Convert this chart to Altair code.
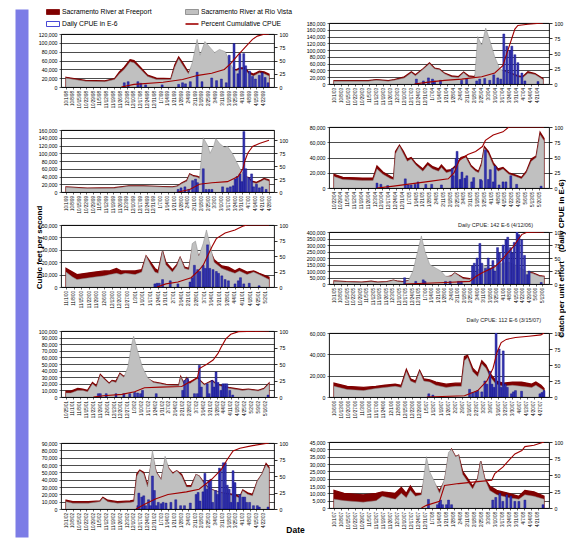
import altair as alt
import pandas as pd

FONT = "Liberation Sans"
FREE_C = "#800000"
RIO_C = "#c0c0c0"
RIO_LINE = "#8a8a8a"
BAR_C = "#3535b0"
BAR_LINE = "#000080"
CUM_C = "#a00000"
STRIPE_C = "#7c7ce6"

# ---------------- data (days are offsets from each season's first date) -------------
P1_DAYS = [0,20,40,50,55,60,66,70,76,84,93,108,112,116,120,126,130,135,138,143,149,153,158,164,167,171,175,179,184,188,193,199,204,209]
P1_RIO = [20000,13000,12000,17000,30000,40000,57000,55000,42000,24000,17000,17000,45000,64000,50000,30000,55000,108000,72000,103000,88000,78000,85000,80000,65000,45000,36000,40000,40000,30000,25000,32000,30000,25000]
P1_FREE = [22000,15000,14000,19000,34000,45000,62000,60000,46000,27000,20000,19000,50000,68000,55000,33000,45000,70000,60000,70000,65000,60000,62000,60000,55000,40000,39000,43000,43000,34000,29000,36000,34000,29000]
P1_BAR_DAYS = [60,64,74,77,82,99,116,120,123,128,135,140,150,155,160,165,168,173,177,179,183,185,189,192,195,199,202,205,208]
P1_CPUE = [8,10,10,7,4,4,5,8,6,10,28,10,17,12,15,8,60,82,25,63,63,40,30,20,15,22,27,18,8]
P1_CUM_DAYS = [57,70,100,120,136,150,163,170,177,182,186,192,197,203,209]
P1_CUM = [0,5,9,14,22,26,33,45,60,70,78,90,96,99,100]

P2_DAYS = [0,34,42,54,60,70,77,81,89,95,100,105,110,117,124,129,134,140,143,147,151,155,160,165,170,177,183,188,193,200,208]
P2_RIO = [8000,8000,11000,8000,11000,18000,33000,24000,44000,60000,45000,42000,30000,21000,19000,33000,21000,19000,140000,115000,165000,130000,80000,45000,37000,29000,21000,19000,32000,28000,13000]
P2_FREE = [10000,10000,13000,10000,13000,21000,36000,27000,46000,62000,47000,44000,32000,24000,22000,35000,24000,22000,40000,45000,50000,50000,45000,40000,38000,31000,24000,22000,36000,31000,16000]
P2_BAR_DAYS = [82,89,94,98,100,106,127,132,142,145,150,155,159,163,166,169,172,175,177,180,183,187,190,203]
P2_CPUE = [8,5,10,8,5,6,6,8,5,8,9,6,15,10,8,82,62,55,62,48,35,18,5,4]
P2_CUM_DAYS = [80,94,110,127,147,160,168,173,177,180,183,193,208]
P2_CUM = [0,3,6,8,12,18,30,55,75,90,96,98,100]

P3_DAYS = [0,22,50,65,80,100,110,115,120,125,128,132,136,138,142,147,149,153,155,159,164,167,172,177,180,184,189,192,197,202,205,210]
P3_RIO = [12000,9000,10000,15000,15000,13000,12000,14000,22000,28000,45000,40000,38000,35000,140000,118000,100000,120000,138000,125000,115000,118000,100000,75000,60000,45000,35000,25000,22000,28000,32000,28000]
P3_FREE = [13000,10000,11000,16000,16000,14000,13000,15000,24000,30000,47000,42000,40000,38000,45000,45000,45000,45000,45000,45000,45000,45000,42000,40000,38000,40000,37000,28000,25000,31000,35000,31000]
P3_BAR_DAYS = [116,119,123,127,131,134,136,142,145,148,151,162,167,170,173,175,177,180,182,184,186,189,192,194,197,200,203,207]
P3_CPUE = [5,8,10,5,22,25,18,45,5,5,5,10,8,10,12,25,30,35,20,117,45,28,35,10,15,8,10,5]
P3_CUM_DAYS = [116,128,138,151,167,178,183,185,188,193,200,210]
P3_CUM = [0,5,15,18,20,30,45,60,75,88,94,100]

P4_DAYS = [0,9,29,40,44,50,58,61,63,67,71,75,79,84,91,96,101,107,110,115,120,125,130,135,140,145,148,151,154,158,163,168,173,179,186,192,197,202,207,211,215]
P4_RIO = [15000,11000,10000,10000,25000,18000,12000,11000,45000,55000,45000,35000,38000,30000,22000,30000,25000,22000,27000,20000,22000,28000,38000,40000,28000,22000,20000,30000,52000,45000,30000,22000,25000,18000,15000,12000,20000,35000,40000,70000,62000]
P4_FREE = [18000,14000,13000,13000,29000,21000,15000,13000,48000,56000,48000,38000,40000,32000,25000,33000,28000,25000,30000,23000,24000,30000,40000,42000,30000,24000,22000,32000,54000,48000,33000,25000,27000,20000,17000,14000,22000,38000,42000,73000,65000]
P4_BAR_DAYS = [44,48,55,73,76,79,83,86,94,100,110,121,122,125,126,129,131,134,136,141,143,150,151,155,158,160,163,165,169,173,176,181,187,212]
P4_CPUE = [8,6,4,15,5,5,6,10,6,6,5,32,20,48,60,14,26,16,20,10,17,14,12,62,14,30,10,36,5,10,10,20,6,3]
P4_CUM_DAYS = [44,61,94,117,123,128,137,145,152,155,163,173,179,215]
P4_CUM = [0,3,10,15,25,45,55,60,68,78,87,92,100,100]

P5_DAYS = [0,6,10,18,26,35,40,46,50,54,63,69,73,77,81,84,88,91,97,101,104,108,112,115,118,121,125,128,131,135,142,148,154,158,165,171,176,185]
P5_RIO = [12000,8000,6000,7000,8000,9000,10000,11000,10000,11000,10000,12000,25000,18000,12000,11000,29000,18000,12000,17000,24000,15000,14000,35000,37000,25000,35000,46000,35000,20000,15000,13000,11000,13000,10000,12000,10000,6000]
P5_FREE = [15000,12000,10000,11000,12000,13000,13000,15000,13000,13000,13000,14000,25000,20000,15000,13000,29000,20000,14000,18000,24000,16000,15000,30000,30000,25000,30000,35000,30000,22000,17000,16000,13000,15000,12000,13000,11000,8000]
P5_BAR_DAYS = [81,83,85,88,95,102,113,115,117,120,122,125,127,129,131,134,137,139,142,145,148,154,157,159,162,167,176]
P5_CPUE = [5,6,6,12,10,5,8,15,35,28,25,35,30,68,30,28,25,22,18,12,10,5,10,15,5,6,2]
P5_CUM_DAYS = [83,91,102,114,120,125,129,133,137,145,154,161,165,185]
P5_CUM = [0,5,8,15,25,35,50,65,78,87,92,98,100,100]

P6_DAYS = [0,13,30,40,47,57,64,69,74,80,85,90,94,98,103,110,115,120,126,130,134,139,146,153,160,167,177,187,197,204,209,214,221,226]
P6_RIO = [20000,15000,12000,18000,12000,15000,28000,18000,15000,25000,100000,250000,370000,250000,150000,120000,100000,60000,60000,85000,65000,40000,35000,90000,150000,120000,150000,170000,140000,110000,90000,80000,60000,55000]
P6_FREE = [24000,18000,15000,21000,15000,18000,30000,21000,18000,25000,40000,50000,60000,60000,55000,50000,48000,50000,62000,85000,68000,48000,42000,45000,50000,55000,60000,65000,70000,80000,90000,85000,65000,60000]
P6_BAR_DAYS = [76,88,96,98,120,125,134,137,149,151,154,157,159,163,166,168,171,173,176,178,182,185,187,190,192,194,197,199,202,205,208,210,223]
P6_CPUE = [12,5,8,5,5,5,5,5,35,40,50,78,40,30,50,30,45,25,70,60,75,85,90,70,60,80,142,95,85,55,18,25,3]
P6_CUM_DAYS = [76,120,146,153,160,167,173,180,187,193,198,202,207,226]
P6_CUM = [0,3,5,15,22,28,33,45,60,72,85,95,99,100]

P7_DAYS = [0,5,12,17,22,27,31,35,39,44,47,51,55,59,63,67,69,73,78,83,89,96,102,115,117,120,123,126,131,134,141,149,154,167,180,186,196,202,207]
P7_RIO = [6000,6000,10000,10000,8000,20000,15000,33000,27000,20000,24000,22000,35000,30000,45000,80000,92000,70000,45000,30000,22000,20000,18000,17000,30000,20000,28000,20000,25000,28000,18000,24000,18000,13000,10000,11000,9000,12000,20000]
P7_FREE = [9000,9000,13000,12000,10000,22000,17000,34000,28000,21000,25000,24000,36000,31000,36000,40000,45000,40000,35000,28000,23000,21000,19000,18000,31000,21000,29000,21000,26000,29000,19000,25000,19000,14000,11000,12000,10000,13000,21000]
P7_BAR_DAYS = [33,35,41,51,59,65,70,73,76,78,92,119,121,124,131,134,136,138,144,146,149,151,153,155,158,160,162,164,167,170,206]
P7_CPUE = [5,5,5,5,5,5,7,6,5,10,5,10,25,28,5,5,48,15,20,5,25,15,38,22,10,20,20,20,10,3,3]
P7_CUM_DAYS = [28,38,57,70,80,96,118,125,134,136,144,150,155,158,163,168,176,207]
P7_CUM = [0,2,4,8,14,15,16,22,29,43,50,56,66,75,88,95,99,100]

P8_DAYS = [0,13,29,41,50,60,66,71,75,80,84,88,94,100,110,119,125,128,131,136,141,145,149,153,159,166,175,184,194,198,203,206]
P8_RIO = [10000,7000,6000,8000,9000,10000,9000,24000,15000,13000,24000,15000,14000,11000,9000,10000,10000,34000,37000,24000,19000,31000,27000,19000,12000,10000,11000,10000,9000,11000,8000,6000]
P8_FREE = [13000,10000,9000,10000,11000,12000,11000,26000,17000,15000,25000,17000,16000,14000,12000,13000,13000,38000,39000,27000,22000,34000,30000,22000,15000,13000,14000,14000,12000,14000,11000,8000]
P8_BAR_DAYS = [93,97,133,136,139,141,145,148,150,153,155,157,159,162,164,166,168,170,174,176,178,184,202,204,206]
P8_CPUE = [5,3,12,7,8,10,8,25,20,40,20,15,112,75,15,72,20,15,5,8,10,9,5,7,10]
P8_CUM_DAYS = [91,128,141,150,156,160,164,169,178,191,203,206]
P8_CUM = [0,2,10,25,45,70,85,90,93,95,97,100]

P9_DAYS = [0,7,23,35,38,43,53,66,70,73,76,80,84,89,93,98,102,106,110,114,119,124,129,134,137,142,147,153,160,166,173,179,182,187,192,197,202,206,209]
P9_RIO = [10000,8000,8000,10000,15000,10000,8000,9000,10000,45000,52000,48000,30000,80000,50000,40000,72000,55000,48000,52000,45000,30000,30000,47000,45000,35000,28000,25000,22000,20000,18000,15000,25000,20000,18000,38000,48000,60000,55000]
P9_FREE = [12000,10000,10000,11000,16000,12000,10000,11000,12000,48000,53000,50000,32000,70000,50000,40000,65000,55000,49000,52000,47000,32000,32000,47000,45000,36000,28000,25000,22000,21000,20000,17000,26000,22000,20000,38000,48000,62000,57000]
P9_BAR_DAYS = [74,75,78,80,82,85,87,89,91,93,95,98,100,103,108,113,118,122,128,134,136,138,141,143,145,147,149,151,154,156,158,159,162,164,166,168,170,172,174,177,179,182,184,186,189,193,197,199,208]
P9_CPUE = [5,24,18,20,5,14,5,50,28,5,10,8,10,9,10,14,5,5,9,22,25,12,26,54,30,43,45,10,28,22,62,60,70,70,36,30,10,58,40,10,22,18,18,10,10,5,5,3,3]
P9_CUM_DAYS = [72,82,92,105,124,137,150,160,166,172,179,192,209]
P9_CUM = [0,8,15,22,26,30,45,60,75,88,92,96,100]

P10_DAYS = [0,10,29,42,48,61,67,72,76,81,87,92,95,100,105,110,114,117,121,124,128,133,138,143,146,150,155,162,174,184,190,199,209]
P10_RIO = [6000,5000,4000,5000,8000,6000,10000,7000,12000,8000,9000,35000,25000,18000,10000,20000,38000,40000,35000,36000,23000,18000,13000,20000,32000,20000,12000,9000,7000,6000,9000,8000,6000]
P10_FREE = [12000,10000,9000,10000,11000,10000,14000,10000,15000,10000,10000,25000,20000,16000,12000,18000,35000,40000,35000,36000,25000,20000,15000,20000,32000,20000,15000,12000,10000,8000,12000,11000,8000]
P10_BAR_DAYS = [94,103,105,106,108,112,114,117,158,161,165,168,172,176,180,184,190,208]
P10_CPUE = [13,5,8,12,5,5,12,5,12,16,22,10,20,18,10,10,12,5]
P10_CUM_DAYS = [87,92,105,110,124,143,157,160,168,174,180,187,190,199,209]
P10_CUM = [0,4,10,34,37,40,42,52,62,72,82,87,93,95,100]

LEGEND_LABELS = ["Sacramento River at Freeport", "Sacramento River at Rio Vista",
                 "Daily CPUE in E-6", "Percent Cumulative CPUE"]
LEGEND_COL = [0, 1, 0, 1]
LEGEND_ROW = [0, 0, 1, 1]

NOTE_P6 = "Daily CPUE: 142 E-6 (4/12/06)"
NOTE_P8 = "Daily CPUE: 112 E-6 (3/15/07)"
Y_TITLE = "Cubic feet per second"
R_TITLE = "Catch per unit effort\u00a0\u00a0\u00a0\u00a0(Daily CPUE in E-6)"
X_TITLE = "Date"


def dt(ts):
    return alt.DateTime(year=int(ts.year), month=int(ts.month), date=int(ts.day))


def transparent_view():
    return alt.ViewBackground(stroke="transparent", fill="transparent")


def spacer(w, h):
    return alt.Chart(pd.DataFrame({"s": [0]})).mark_point(opacity=0, size=1).properties(
        width=w, height=h, view=transparent_view())


def panel(start, span, days, rio, free, bdays, cpue, cdays, cum, ymax, ystep, w, h,
          rmax=100, note=None, note_offset=2, note_dx=-16, xkw=None, ykw=None, rkw=None):
    s = pd.Timestamp(start)
    e = s + pd.Timedelta(days=span)

    def to_dates(ds):
        return [s + pd.Timedelta(days=d) for d in ds]

    flow = pd.DataFrame({"date": to_dates(days), "rio": rio, "free": free})
    bars = pd.DataFrame({"date": to_dates(bdays), "cpue": cpue})
    cumdf = pd.DataFrame({"date": to_dates(cdays), "cum": cum})

    ticks = [dt(t) for t in pd.date_range(s, e, freq="7D")]
    xa = dict(values=ticks, format="%-m/%-d/%y", labelAngle=270, labelAlign="right",
              labelBaseline="middle", labelFontSize=4.5, labelPadding=1.5, labelOverlap=False,
              labelFlush=False, tickSize=2, tickWidth=0.6, domain=False, grid=False, title=None)
    if xkw:
        xa.update(xkw)
    X = alt.X("date:T", scale=alt.Scale(domain=[dt(s), dt(e)]), axis=alt.Axis(**xa))

    ya = dict(orient="left", values=list(range(0, ymax + 1, ystep)),
              labelExpr="format(datum.value, ',')", labelFontSize=5.2,
              labelPadding=2, tickSize=2, tickWidth=0.6, domain=False, grid=True, gridColor="black",
              gridWidth=0.7, title=None)
    if ykw:
        ya.update(ykw)
    ra = dict(orient="right", values=[0, 25, 50, 75, 100], labelFontSize=5.2, labelPadding=2,
              tickSize=3, tickWidth=0.8, domain=False, grid=False, title=None)
    if rkw:
        ra.update(rkw)
    ys = alt.Scale(domain=[0, ymax], nice=False)
    rs = alt.Scale(domain=[0, rmax], nice=False)

    free_area = alt.Chart(flow).mark_area(fill=FREE_C, stroke=FREE_C, strokeWidth=1.3, clip=True).encode(
        x=X, y=alt.Y("free:Q", scale=ys, axis=alt.Axis(**ya)))
    rio_area = alt.Chart(flow).mark_area(fill=RIO_C, stroke=RIO_LINE, strokeWidth=0.5, clip=True).encode(
        x=X, y=alt.Y("rio:Q", scale=ys, axis=None))
    bar = alt.Chart(bars).mark_bar(size=2, fill=BAR_C, stroke=BAR_LINE, strokeWidth=0.4, clip=True).encode(
        x=X, y=alt.Y("cpue:Q", scale=rs, axis=alt.Axis(**ra)))
    line = alt.Chart(cumdf).mark_line(color=CUM_C, strokeWidth=1.1, clip=True).encode(
        x=X, y=alt.Y("cum:Q", scale=rs, axis=None))

    props = dict(width=w, height=h,
                 view=alt.ViewBackground(stroke="black", strokeWidth=0.9, fill="white"))
    if note:
        props["title"] = alt.TitleParams(note, anchor="end", frame="group", fontSize=5.5, font=FONT,
                                         fontWeight="normal", offset=note_offset, dx=note_dx,
                                         color="#222222")
    return alt.layer(free_area, rio_area, bar, line).resolve_scale(y="independent").properties(**props)


LW, RW = 213, 220

p1 = panel("1998-10-01", 209, P1_DAYS, P1_RIO, P1_FREE, P1_BAR_DAYS, P1_CPUE, P1_CUM_DAYS, P1_CUM,
           120000, 20000, LW, 53)
p3 = panel("1999-10-01", 210, P3_DAYS, P3_RIO, P3_FREE, P3_BAR_DAYS, P3_CPUE, P3_CUM_DAYS, P3_CUM,
           160000, 20000, LW, 62, rmax=120)
p5 = panel("2000-11-01", 185, P5_DAYS, P5_RIO, P5_FREE, P5_BAR_DAYS, P5_CPUE, P5_CUM_DAYS, P5_CUM,
           50000, 10000, LW, 62,
           ykw=dict(title=Y_TITLE, titleX=-22, titleY=22, titleAngle=270, titleAlign="center",
                    titleBaseline="middle", titleFontSize=8, titleFontWeight="bold", titleFont=FONT))
p7 = panel("2001-10-25", 207, P7_DAYS, P7_RIO, P7_FREE, P7_BAR_DAYS, P7_CPUE, P7_CUM_DAYS, P7_CUM,
           100000, 10000, LW, 66)
p9 = panel("2002-10-01", 209, P9_DAYS, P9_RIO, P9_FREE, P9_BAR_DAYS, P9_CPUE, P9_CUM_DAYS, P9_CUM,
           90000, 10000, LW, 66,
           xkw=dict(title=X_TITLE, titleX=234, titleY=20, titleAngle=0, titleAlign="center",
                    titleBaseline="middle", titleFontSize=8.5, titleFontWeight="bold", titleFont=FONT))

p2 = panel("2003-10-01", 209, P2_DAYS, P2_RIO, P2_FREE, P2_BAR_DAYS, P2_CPUE, P2_CUM_DAYS, P2_CUM,
           180000, 20000, RW, 61)
p4 = panel("2004-10-22", 215, P4_DAYS, P4_RIO, P4_FREE, P4_BAR_DAYS, P4_CPUE, P4_CUM_DAYS, P4_CUM,
           80000, 20000, RW, 61,
           rkw=dict(title=R_TITLE, titleX=12, titleY=131, titleAngle=270, titleAlign="center",
                    titleBaseline="middle", titleFontSize=8, titleFontWeight="bold", titleFont=FONT))
p6 = panel("2005-10-01", 226, P6_DAYS, P6_RIO, P6_FREE, P6_BAR_DAYS, P6_CPUE, P6_CUM_DAYS, P6_CUM,
           400000, 50000, RW, 52, note=NOTE_P6, note_offset=2, note_dx=-16)
p8 = panel("2006-10-06", 206, P8_DAYS, P8_RIO, P8_FREE, P8_BAR_DAYS, P8_CPUE, P8_CUM_DAYS, P8_CUM,
           60000, 20000, RW, 64, note=NOTE_P8, note_offset=8, note_dx=-8)
p10 = panel("2007-10-01", 209, P10_DAYS, P10_RIO, P10_FREE, P10_BAR_DAYS, P10_CPUE, P10_CUM_DAYS, P10_CUM,
            45000, 5000, RW, 66)

# ---------------- legend ----------------
ldf = pd.DataFrame({"label": LEGEND_LABELS, "col": LEGEND_COL, "row": LEGEND_ROW})
lx = alt.X("col:Q", scale=alt.Scale(domain=[0, 1], range=[-8, 131]), axis=None)
ly = alt.Y("row:Q", scale=alt.Scale(domain=[0, 1], range=[3, 15]), axis=None)
boxes = alt.Chart(ldf.iloc[:3]).mark_rect(width=13, height=5, strokeWidth=0.8).encode(
    x=lx, y=ly,
    fill=alt.Fill("label:N", scale=alt.Scale(domain=LEGEND_LABELS[:3], range=[FREE_C, RIO_C, "white"]), legend=None),
    stroke=alt.Stroke("label:N", scale=alt.Scale(domain=LEGEND_LABELS[:3], range=[FREE_C, "#808080", "#1a1acc"]), legend=None))
lline = alt.Chart(ldf.iloc[3:]).mark_rect(width=13, height=1.6, color=CUM_C).encode(x=lx, y=ly)
ltext = alt.Chart(ldf).mark_text(align="left", baseline="middle", dx=9, fontSize=6.8, font=FONT,
                                 color="black").encode(x=lx, y=ly, text="label:N")
legend = alt.layer(boxes, lline, ltext).properties(width=LW, height=18, view=transparent_view())

stripe = alt.Chart(pd.DataFrame({"s": [0]})).mark_point(opacity=0, size=1).properties(
    width=13, height=528, view=alt.ViewBackground(fill=STRIPE_C, stroke="transparent"))

leftcol = alt.vconcat(legend, spacer(1, 7), p1, spacer(1, 43), p3, spacer(1, 33), p5,
                      spacer(1, 44), p7, spacer(1, 46), p9, spacing=0, bounds="flush")
rightcol = alt.vconcat(spacer(1, 14), p2, spacer(1, 43), p4, spacer(1, 44), p6,
                       spacer(1, 49), p8, spacer(1, 45), p10, spacing=0, bounds="flush")

chart = alt.hconcat(stripe, spacer(3, 10), leftcol, rightcol, spacing=0).properties(
    padding={"left": 6, "top": 0, "right": 0, "bottom": 0}
).configure(background="white").configure_view(stroke="transparent").configure_axis(
    labelFont=FONT, titleFont=FONT, labelColor="black", titleColor="black",
    tickColor="black", domainColor="black")

chart.save("out.html", embed_options={"renderer": "svg", "actions": False})
